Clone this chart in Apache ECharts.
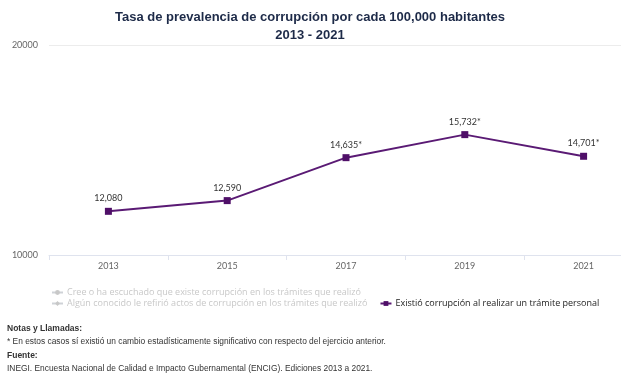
<!DOCTYPE html>
<html>
<head>
<meta charset="utf-8">
<script src="https://cdn.jsdelivr.net/npm/echarts@6/dist/echarts.min.js"></script>
<style>
html,body{margin:0;padding:0;background:#fff;overflow:hidden;width:621px;height:382px;}
#c{width:643px;height:382px;}
</style>
</head>
<body>
<div id="c"></div>
<script>
const categories = ['2013', '2015', '2017', '2019', '2021'];
const seriesNames = [
  'Cree o ha escuchado que existe corrupción en los trámites que realizó',
  'Algún conocido le refirió actos de corrupción en los trámites que realizó',
  'Existió corrupción al realizar un trámite personal'
];
const valuesExistio = [12080, 12590, 14635, 15732, 14701];
const significant = [false, false, true, true, true];
const yTicks = [10000, 20000];

const chart = echarts.init(document.getElementById('c'));
const purple = '#4f0f68';
const fontFam = 'Lato, "Open Sans", sans-serif';
const legFont = '"Open Sans", sans-serif';
const noteFont = '"Liberation Sans", Arial, sans-serif';

const selected = {};
selected[seriesNames[0]] = false;
selected[seriesNames[1]] = false;
selected[seriesNames[2]] = true;

chart.setOption({
  animation: false,
  title: {
    text: 'Tasa de prevalencia de corrupción por cada 100,000 habitantes\n2013 - 2021',
    left: 305,
    textAlign: 'center',
    top: 3,
    textStyle: {
      fontFamily: noteFont,
      fontSize: 13,
      fontWeight: 'bold',
      color: '#1d2a48',
      lineHeight: 18,
      align: 'center'
    }
  },
  grid: { left: 49, top: 45, bottom: 127, right: 0, containLabel: false },
  legend: [
    {
      data: [seriesNames[0]],
      left: 46, top: 283,
      selected: selected,
      itemWidth: 11, itemHeight: 6,
      itemGap: 12,
      inactiveColor: '#c8c8c8',
      textStyle: { fontFamily: legFont, fontSize: 9, color: '#333', padding: [0, 0, 0, -1] }
    },
    {
      data: [seriesNames[1], seriesNames[2]],
      left: 46, top: 294,
      itemGap: 12,
      selected: selected,
      itemWidth: 11, itemHeight: 6,
      inactiveColor: '#c8c8c8',
      textStyle: { fontFamily: legFont, fontSize: 9, color: '#222', padding: [0, 0, 0, -1] }
    }
  ],
  xAxis: {
    type: 'category',
    data: categories,
    boundaryGap: true,
    axisLine: { lineStyle: { color: '#dfe3ee', width: 1 } },
    axisTick: { show: true, length: 5, lineStyle: { color: '#dfe3ee' } },
    axisLabel: { fontFamily: fontFam, fontSize: 9, color: '#666', margin: 7 }
  },
  yAxis: {
    type: 'value',
    min: yTicks[0],
    max: yTicks[yTicks.length - 1],
    interval: yTicks[1] - yTicks[0],
    splitLine: { lineStyle: { color: '#ececec' } },
    axisLine: { show: false },
    axisTick: { show: false },
    axisLabel: { fontFamily: fontFam, fontSize: 9, color: '#666', margin: 11, formatter: function (v) { return String(v); } }
  },
  series: [
    {
      name: seriesNames[0], type: 'line', data: [],
      symbol: 'circle', symbolSize: 6,
      itemStyle: { color: '#999' }, lineStyle: { color: '#999' }
    },
    {
      name: seriesNames[1], type: 'line', data: [],
      symbol: 'diamond', symbolSize: 7,
      itemStyle: { color: '#999' }, lineStyle: { color: '#999' }
    },
    {
      name: seriesNames[2], type: 'line', data: valuesExistio,
      symbol: 'rect', symbolSize: 7,
      itemStyle: { color: purple },
      lineStyle: { color: '#5a1a74', width: 2 },
      label: {
        show: true, position: 'top', distance: 5,
        fontFamily: fontFam, fontSize: 9, color: '#333',
        formatter: function (p) {
          return p.value.toLocaleString('en-US') + (significant[p.dataIndex] ? '*' : '');
        }
      }
    }
  ],
  graphic: [
    { type: 'text', left: 7, top: 324, style: { text: 'Notas y Llamadas:', font: 'bold 8.5px ' + noteFont, fill: '#333' } },
    { type: 'text', left: 7, top: 338, style: { text: '* En estos casos sí existió un cambio estadísticamente significativo con respecto del ejercicio anterior.', font: '8.4px ' + noteFont, fill: '#333' } },
    { type: 'text', left: 7, top: 351, style: { text: 'Fuente:', font: 'bold 8.5px ' + noteFont, fill: '#333' } },
    { type: 'text', left: 7, top: 365, style: { text: 'INEGI. Encuesta Nacional de Calidad e Impacto Gubernamental (ENCIG). Ediciones 2013 a 2021.', font: '8.4px ' + noteFont, fill: '#333' } }
  ]
});
</script>
</body>
</html>
